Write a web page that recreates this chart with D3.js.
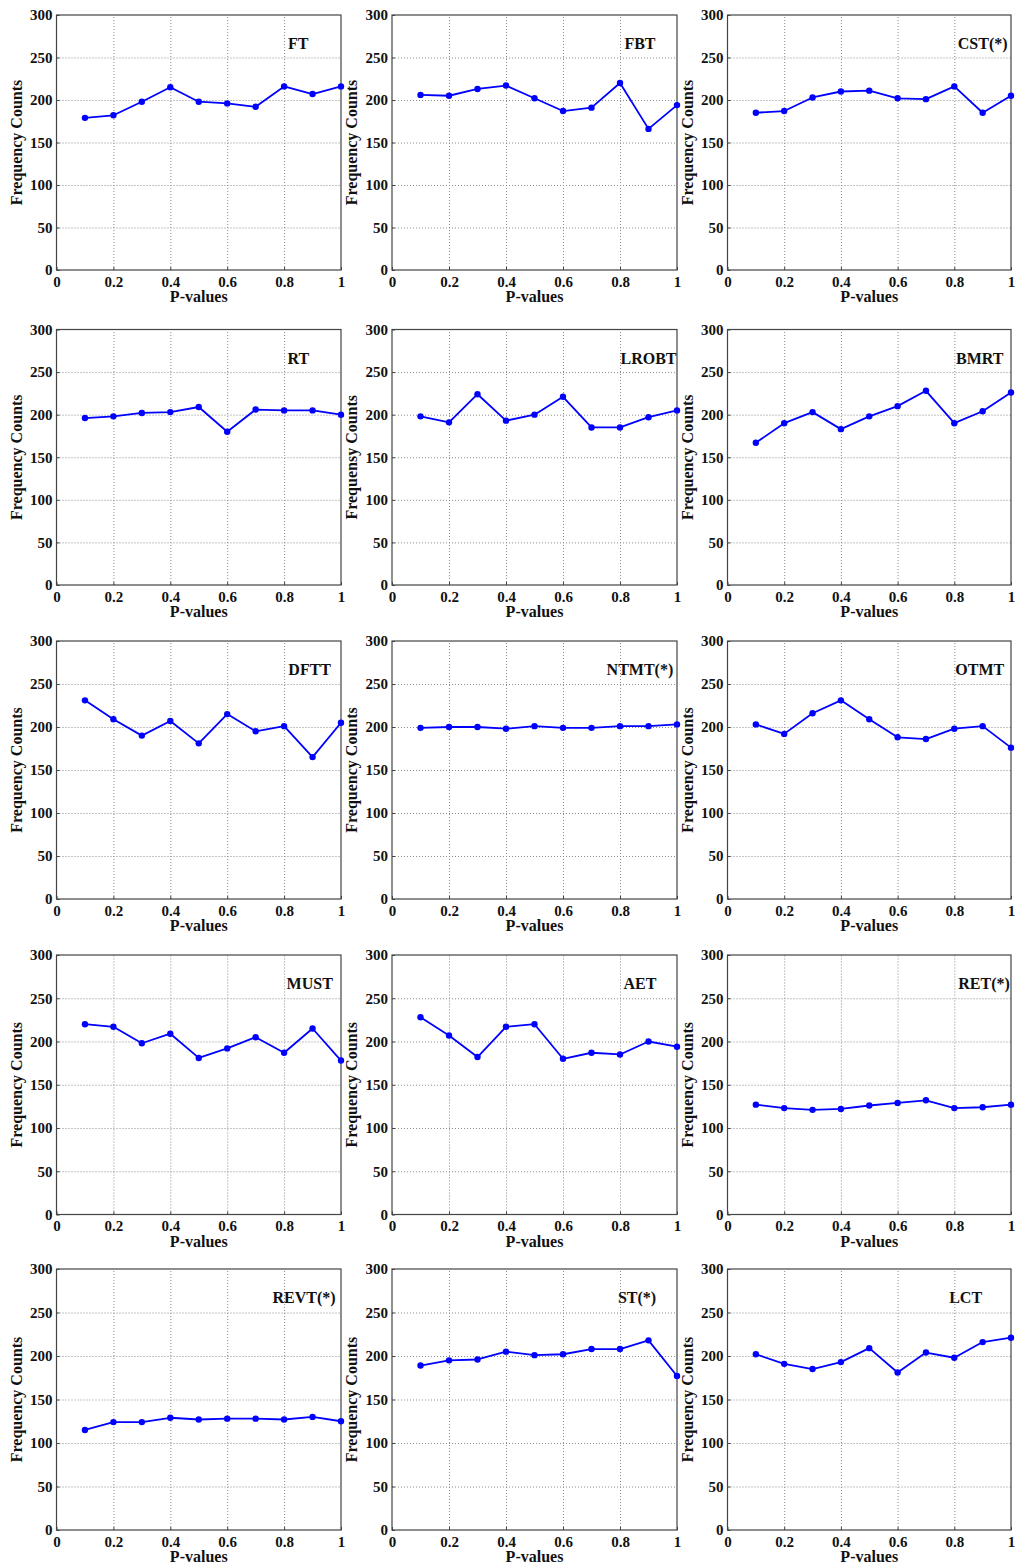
<!DOCTYPE html>
<html>
<head>
<meta charset="utf-8">
<title>Frequency Counts vs P-values</title>
<script src="https://cdn.jsdelivr.net/npm/d3@7/dist/d3.min.js"></script>
<style>
body{ margin:0; background:#fff; }
svg text{ font-family:"Liberation Serif","Times New Roman",serif; font-weight:bold; fill:#111; }
.domain{ display:none; }
</style>
</head>
<body>
<script>
// p-values on the x axis
var pValues = [0.1, 0.2, 0.3, 0.4, 0.5, 0.6, 0.7, 0.8, 0.9, 1.0];

// test names, row by row
var tests = ["FT", "FBT", "CST(*)", "RT", "LROBT", "BMRT", "DFTT", "NTMT(*)", "OTMT",
             "MUST", "AET", "RET(*)", "REVT(*)", "ST(*)", "LCT"];

// frequency counts
var ftCounts    = [179, 182, 198, 215, 198, 196, 192, 216, 207, 216];
var fbtCounts   = [206, 205, 213, 217, 202, 187, 191, 220, 166, 194];
var cstCounts   = [185, 187, 203, 210, 211, 202, 201, 216, 185, 205];
var rtCounts    = [196, 198, 202, 203, 209, 180, 206, 205, 205, 200];
var lrobtCounts = [198, 191, 224, 193, 200, 221, 185, 185, 197, 205];
var bmrtCounts  = [167, 190, 203, 183, 198, 210, 228, 190, 204, 226];
var dfttCounts  = [231, 209, 190, 207, 181, 215, 195, 201, 165, 205];
var ntmtCounts  = [199, 200, 200, 198, 201, 199, 199, 201, 201, 203];
var otmtCounts  = [203, 192, 216, 231, 209, 188, 186, 198, 201, 176];
var mustCounts  = [220, 217, 198, 209, 181, 192, 205, 187, 215, 178];
var aetCounts   = [228, 207, 182, 217, 220, 180, 187, 185, 200, 194];
var retCounts   = [127, 123, 121, 122, 126, 129, 132, 123, 124, 127];
var revtCounts  = [115, 124, 124, 129, 127, 128, 128, 127, 130, 125];
var stCounts    = [189, 195, 196, 205, 201, 202, 208, 208, 218, 177];
var lctCounts   = [202, 191, 185, 193, 209, 181, 204, 198, 216, 221];

var allCounts = [ftCounts, fbtCounts, cstCounts, rtCounts, lrobtCounts, bmrtCounts,
                 dfttCounts, ntmtCounts, otmtCounts, mustCounts, aetCounts, retCounts,
                 revtCounts, stCounts, lctCounts];

// y label text (the LROBT panel carries its own spelling)
var yLabels = tests.map(function(t){
	return t == "LROBT" ? "Frequensy Counts" : "Frequency Counts";
});

var xTicks = [0, 0.2, 0.4, 0.6, 0.8, 1];
var yTicks = [0, 50, 100, 150, 200, 250, 300];

// layout of the grid of panels
var width = 1018, height = 1565;
var colLeft  = [56.5, 392, 727.5];
var colRight = [341, 677, 1011];
var rowTop    = [15, 329.5, 641, 955, 1269];
var rowBottom = [270, 585, 899, 1214.5, 1530];
var titleAt = [0.85, 0.87, 0.90, 0.85, 0.90, 0.89, 0.89, 0.87, 0.89,
               0.89, 0.87, 0.905, 0.87, 0.86, 0.84];

var svg = d3.select("body").append("svg")
	.attr("width", width)
	.attr("height", height);

tests.forEach(function(name, i){
	var col = i % 3, row = Math.floor(i / 3);
	var left = colLeft[col], top = rowTop[row];
	var w = colRight[col] - left, h = rowBottom[row] - top;

	var x = d3.scaleLinear().domain([0, 1]).range([0, w]);
	var y = d3.scaleLinear().domain([0, 300]).range([h, 0]);

	var g = svg.append("g").attr("transform", "translate(" + left + "," + top + ")");

	// dotted grid
	g.append("g")
		.attr("class", "grid")
		.call(d3.axisLeft(y).tickValues(yTicks.slice(1, -1)).tickSize(-w).tickFormat(""))
		.selectAll("line")
		.attr("stroke", "#8a8a8a").attr("stroke-dasharray", "1,2");
	g.append("g")
		.attr("class", "grid")
		.attr("transform", "translate(0," + h + ")")
		.call(d3.axisBottom(x).tickValues(xTicks.slice(1, -1)).tickSize(-h).tickFormat(""))
		.selectAll("line")
		.attr("stroke", "#8a8a8a").attr("stroke-dasharray", "1,2");

	// axes with inward ticks
	var ya = g.append("g")
		.call(d3.axisLeft(y).tickValues(yTicks).tickSizeInner(-3).tickSizeOuter(0).tickPadding(4));
	var xa = g.append("g")
		.attr("transform", "translate(0," + h + ")")
		.call(d3.axisBottom(x).tickValues(xTicks).tickSizeInner(-3).tickSizeOuter(0).tickPadding(6)
			.tickFormat(function(d){ return d == 0 || d == 1 ? d3.format("d")(d) : d3.format(".1f")(d); }));
	[ya, xa].forEach(function(a){
		a.selectAll("text").attr("font-size", "15px").attr("fill", "#111");
		a.selectAll("line").attr("stroke", "#444");
	});

	// box
	g.append("rect")
		.attr("width", w).attr("height", h)
		.attr("fill", "none").attr("stroke", "#444").attr("stroke-width", 1.2);

	// series
	var counts = allCounts[i];
	var pts = pValues.map(function(p, k){ return [p, counts[k]]; });
	var line = d3.line().x(function(d){ return x(d[0]); }).y(function(d){ return y(d[1]); });
	g.append("path")
		.datum(pts)
		.attr("d", line)
		.attr("fill", "none")
		.attr("stroke", "#0000ff")
		.attr("stroke-width", 1.8)
		.attr("stroke-linejoin", "round");
	g.selectAll("circle.pt")
		.data(pts).enter().append("circle")
		.attr("class", "pt")
		.attr("cx", function(d){ return x(d[0]); })
		.attr("cy", function(d){ return y(d[1]); })
		.attr("r", 3.2)
		.attr("fill", "#0000ff");

	// title inside the box
	g.append("text")
		.attr("x", x(titleAt[i]))
		.attr("y", 34)
		.attr("text-anchor", "middle")
		.attr("font-size", "16px")
		.text(name);

	// axis labels
	g.append("text")
		.attr("x", w / 2)
		.attr("y", h + 32)
		.attr("text-anchor", "middle")
		.attr("font-size", "16px")
		.text("P-values");
	g.append("text")
		.attr("transform", "translate(-35," + (h / 2) + ") rotate(-90)")
		.attr("text-anchor", "middle")
		.attr("font-size", "16px")
		.text(yLabels[i]);
});
</script>
</body>
</html>
